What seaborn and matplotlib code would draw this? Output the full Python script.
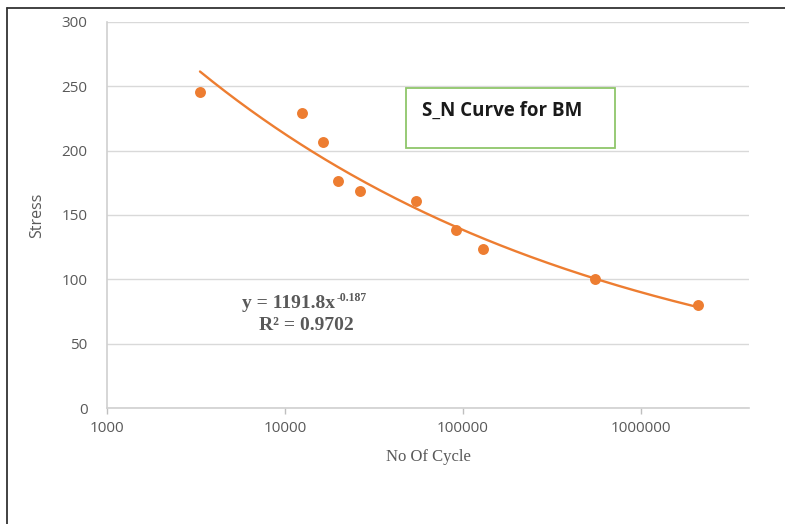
import numpy as np
import pandas as pd
import seaborn as sns
import matplotlib.pyplot as plt
from matplotlib.lines import Line2D
from matplotlib.ticker import FixedLocator, FixedFormatter, NullLocator

# S-N data for base metal
cycles = [3330, 12500, 16400, 19900, 26400, 54500, 91400, 130000, 552000, 2100000]
stress = [245.5, 229.5, 206.5, 176.5, 169, 160.5, 138.5, 123.5, 100, 80]

# power trendline from the chart: y = 1191.8 x^-0.187
coef_a = 1191.8
coef_b = -0.187
r_squared = 0.9702

x_ticks = [1000, 10000, 100000, 1000000]
y_ticks = [0, 50, 100, 150, 200, 250, 300]

orange = '#ED7D31'
grey_text = '#595959'

sns.set_style('white')
plt.rcParams['font.family'] = ['Open Sans', 'DejaVu Sans']

df = pd.DataFrame({'No Of Cycle': cycles, 'Stress': stress})
x_fit = np.logspace(np.log10(min(cycles)), np.log10(max(cycles)), 200)
fit_df = pd.DataFrame({'No Of Cycle': x_fit, 'Stress': coef_a * x_fit ** coef_b})

fig = plt.figure(figsize=(7.85, 5.24), dpi=100)
ax = fig.add_axes([107 / 785, 1 - 408 / 524, (749 - 107) / 785, (408 - 22) / 524])

sns.lineplot(data=fit_df, x='No Of Cycle', y='Stress', color=orange, linewidth=1.7, ax=ax)
sns.scatterplot(data=df, x='No Of Cycle', y='Stress', color=orange, s=62, edgecolor=orange,
                linewidth=0, ax=ax, zorder=3)

ax.set_xscale('log')
ax.set_xlim(1000, 4.05e6)
ax.set_ylim(0, 300)
ax.xaxis.set_major_locator(FixedLocator(x_ticks))
ax.xaxis.set_major_formatter(FixedFormatter([str(t) for t in x_ticks]))
ax.xaxis.set_minor_locator(NullLocator())
ax.set_yticks(y_ticks)

ax.grid(axis='y', color='#d9d9d9', linewidth=1)
ax.grid(axis='x', visible=False)
ax.set_axisbelow(True)
for side in ['top', 'right']:
    ax.spines[side].set_visible(False)
for side in ['left', 'bottom']:
    ax.spines[side].set_color('#d0d0d0')
    ax.spines[side].set_linewidth(1.2)

ax.tick_params(axis='x', colors='#bfbfbf', labelcolor=grey_text, labelsize=11,
               length=4, width=1, direction='out', bottom=True, pad=5)
ax.tick_params(axis='y', colors='#bfbfbf', labelcolor=grey_text, labelsize=11,
               length=0, pad=14)

ax.set_xlabel('No Of Cycle', color=grey_text, fontsize=12, labelpad=10,
              family=['Liberation Serif', 'DejaVu Serif'])
ax.set_ylabel('Stress', color=grey_text, fontsize=11.5, labelpad=12)

# trendline equation
serif = ['Liberation Serif', 'DejaVu Serif']
ax.text(0.355, 0.272, 'y = 1191.8x', transform=ax.transAxes,
        ha='right', va='center', fontsize=14, fontweight='bold', color=grey_text, family=serif)
ax.text(0.357, 0.285, str(coef_b), transform=ax.transAxes,
        ha='left', va='center', fontsize=8.5, fontweight='bold', color=grey_text, family=serif)
ax.text(0.31, 0.215, 'R² = ' + str(r_squared), transform=ax.transAxes,
        ha='center', va='center', fontsize=14, fontweight='bold', color=grey_text, family=serif)

# chart title inside a green box
box_x0, box_x1 = (406 - 107) / 642, (615 - 107) / 642
box_y0, box_y1 = (408 - 148) / 386, (408 - 88) / 386
ax.add_patch(plt.Rectangle((box_x0, box_y0), box_x1 - box_x0, box_y1 - box_y0,
                           transform=ax.transAxes, facecolor='white', edgecolor='#8fc66a',
                           linewidth=1.3, zorder=4))
ax.text(box_x0 + 0.025, box_y1 - 0.058, 'S_N Curve for BM', transform=ax.transAxes,
        ha='left', va='center', fontsize=13.5, fontweight='bold', color='#1a1a1a', zorder=5)

# outer frame (left and top edges only visible)
fig.add_artist(Line2D([7 / 785, 1], [1 - 8 / 524, 1 - 8 / 524], color='#333333', linewidth=1.3))
fig.add_artist(Line2D([7 / 785, 7 / 785], [0, 1 - 8 / 524], color='#333333', linewidth=1.3))

fig.savefig('out.png', dpi=100)
